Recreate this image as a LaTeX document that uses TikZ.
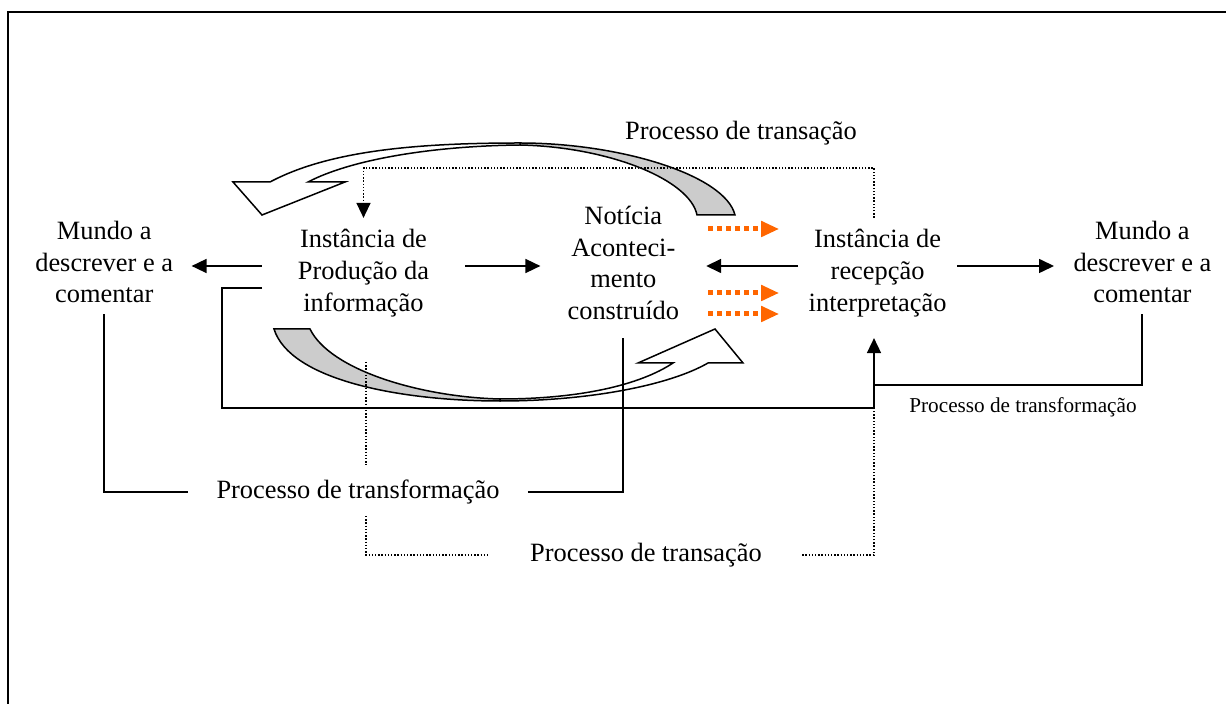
\documentclass[tikz,border=0pt]{standalone}
\usepackage{fontspec}
\setmainfont{Liberation Serif}
\usepackage{tikz}
\usetikzlibrary{arrows.meta,positioning}
\definecolor{orangeline}{RGB}{255, 102, 0}
\definecolor{backgrey}{RGB}{204, 204, 204}
\tikzstyle{textonly} = [draw=none, fill=none, align=center, inner xsep=0pt, inner ysep=5.5pt, font=\fontsize{13.2}{15.85}\selectfont]
\tikzstyle{smalltext} = [draw=none, fill=none, align=center, inner sep=0pt, font=\fontsize{10.6}{12.7}\selectfont]
\tikzstyle{tedge}  = [draw, line width=0.8pt, -{Triangle[length=7.5pt, width=7pt]}]
\tikzstyle{oedge}  = [draw=orangeline, line width=2.5pt, dash pattern=on 2.5pt off 2pt, -{Triangle[length=9pt, width=7.5pt]}]
\tikzstyle{sline}  = [draw, line width=1pt]
\tikzstyle{dline}  = [draw, line width=0.7pt, dash pattern=on 0.7pt off 0.9pt]
\tikzstyle{ribbon} = [draw=black, line width=0.75pt, fill=white]
\tikzstyle{ribbonback} = [ribbon, fill=backgrey]

\begin{document}
\begin{tikzpicture}[x=0.5pt, y=-0.5pt]
\useasboundingbox (0,0) rectangle (1226,704);
\draw[line width=1pt] (8,704) -- (8,12) -- (1226,12);

%curved arrows=========================
\path[ribbonback] (520,143) .. controls (620,143) and (725,175) .. (735,215) -- (697,215)
    .. controls (690,180) and (610,147) .. (520,145) -- cycle;
\path[ribbon] (520,143) .. controls (420,143) and (330,150) .. (270,182) -- (233,182) -- (262,215)
    -- (345,182) -- (308,182) .. controls (350,160) and (430,146) .. (520,145) -- cycle;
\path[ribbonback] (274,329) .. controls (290,380) and (400,401) .. (500,401) -- (500,399)
    .. controls (420,397) and (330,370) .. (310,329) -- cycle;
\path[ribbon] (500,401) .. controls (590,401) and (670,385) .. (708,363) -- (743,363) -- (715,329)
    -- (638,363) -- (673,363) .. controls (640,385) and (580,399) .. (500,399) -- cycle;

%nodes=========================
\node[textonly, minimum width=101.5pt] (prod) at (363.5,273) {Instância de\\Produção da\\informação};
\node[textonly, minimum width=87pt, left=35pt of prod, yshift=5.5pt] (mundoL) {Mundo a\\descrever e a\\comentar};
\node[textonly, minimum width=82.5pt, right=37.5pt of prod, yshift=5pt] (noticia) {Notícia\\Aconteci-\\mento\\construído};
\node[textonly, minimum width=79pt, right=46pt of noticia, yshift=-5pt] (recep) {Instância de\\recepção\\interpretação};
\node[textonly, minimum width=88pt, right=48.5pt of recep, yshift=5.5pt] (mundoR) {Mundo a\\descrever e a\\comentar};

\node[textonly, inner ysep=0pt] (tsT) at (741,133) {Processo de transação};
\node[textonly, inner xsep=14pt, inner ysep=0pt] (tfB) at (358,492) {Processo de transformação};
\node[textonly, inner xsep=20pt, inner ysep=0pt] (tsB) at (646,555) {Processo de transação};
\node[smalltext] (tfR) at (1023,407) {Processo de transformação};

\coordinate (lv) at (0,266);
\coordinate (pl) at (262,288);
\coordinate (pc) at (222,288);
\coordinate (ra) at (874,408);
\coordinate (tt) at (0,168);
\coordinate (d1) at (366,362);
\coordinate (d2) at (366,465);
\coordinate (d3) at (366,516);

% edges
\path[tedge] (prod.west |- lv) -- (mundoL.east |- lv);
\path[tedge] (prod.east |- lv) -- (noticia.west |- lv);
\path[tedge] (recep.west |- lv) -- (noticia.east |- lv);
\path[tedge] (recep.east |- lv) -- (mundoR.west |- lv);
\foreach \y in {229,293,314}
  \path[oedge, shorten <=1pt, shorten >=9.5pt] (noticia.east |- 0,\y) -- (recep.west |- 0,\y);

% transformation
\path[sline] (pl) -- (pc) |- (ra);
\path[tedge, shorten >=5pt] (ra) -- (ra |- recep.south);
\path[sline] (mundoR.south) |- (ra |- 0,385);
\path[sline] (mundoL.south) |- (tfB.west);
\path[sline, shorten >=3.5pt] (tfB.east) -| (noticia.south);

% transaction
\path[dline, -{Triangle[length=7.5pt, width=7pt]}] (ra |- recep.north) -- (ra |- tt) -| (prod.north);
\path[dline] (d1) -- (d2);
\path[dline] (d3) |- (tsB.west);
\path[dline] (tsB.east) -| (ra);

\end{tikzpicture}
\end{document}
